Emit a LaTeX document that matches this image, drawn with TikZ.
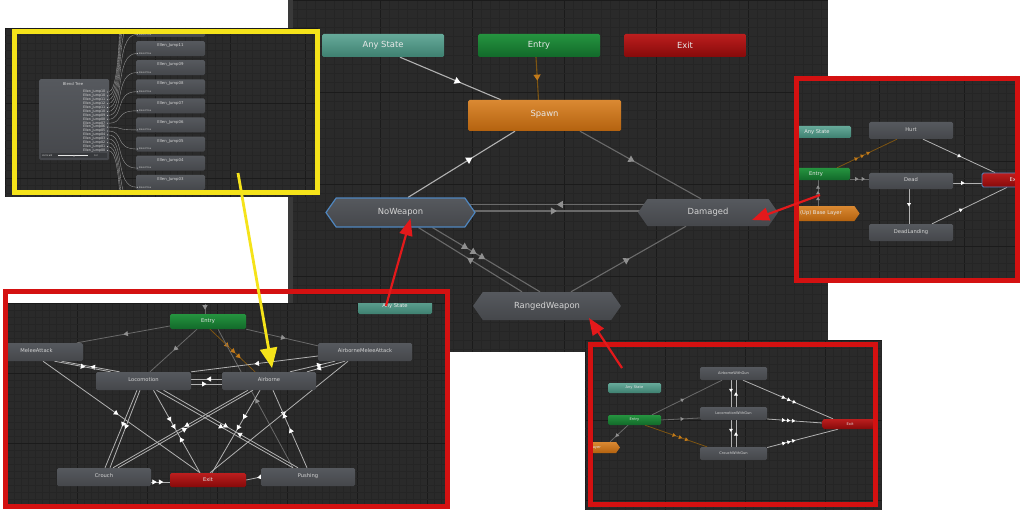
\documentclass[tikz,border=0pt]{standalone}
\usepackage{fontspec}
\setmainfont{DejaVu Sans}
\usetikzlibrary{arrows.meta,decorations.markings,shapes.symbols}
\pgfdeclarelayer{panels}
\pgfdeclarelayer{edges}
\pgfdeclarelayer{top}
\pgfsetlayers{panels,edges,main,top}

\definecolor{pbg}{HTML}{2A2A2A}
\definecolor{gminor}{HTML}{252525}
\definecolor{gmajor}{HTML}{1B1B1B}
\definecolor{stripc}{HTML}{3A3A3A}
\definecolor{nodeT}{HTML}{56595E}
\definecolor{nodeB}{HTML}{45474B}
\definecolor{txt}{HTML}{D4D4D4}
\definecolor{txtc}{HTML}{E8E8E8}
\definecolor{tealT}{HTML}{66AA9A}
\definecolor{tealB}{HTML}{3E8070}
\definecolor{grnT}{HTML}{25943F}
\definecolor{grnB}{HTML}{12692A}
\definecolor{redT}{HTML}{BC1E1E}
\definecolor{redB}{HTML}{860A0A}
\definecolor{orT}{HTML}{DA8932}
\definecolor{orB}{HTML}{B4620F}
\definecolor{lineW}{HTML}{B2B2B2}
\definecolor{lineG}{HTML}{6A6A6A}
\definecolor{arrG}{HTML}{909090}
\definecolor{lineO}{HTML}{7E5512}
\definecolor{arrO}{HTML}{C27A1A}
\definecolor{hiblue}{HTML}{4F86BF}
\definecolor{boxred}{HTML}{D41111}
\definecolor{arrred}{HTML}{E3191B}
\definecolor{boxyel}{HTML}{F5E31A}
\definecolor{curvec}{HTML}{9C9C9C}

\newcommand\gridpanel[6]{%
  \fill[pbg] (#1,#2) rectangle (#3,#4);
  \begin{scope}
    \clip (#1,#2) rectangle (#3,#4);
    \pgfmathtruncatemacro\gnx{(#3-#1)/#5+1}%
    \pgfmathtruncatemacro\gny{(#4-#2)/#5+1}%
    \foreach \k in {0,...,\gnx}{%
      \pgfmathtruncatemacro\kk{mod(\k,#6)}%
      \ifnum\kk=0 \def\gc{gmajor}\else\def\gc{gminor}\fi
      \draw[color=\gc, line width=0.6pt] ({#1+\k*#5},#2) -- ({#1+\k*#5},#4);}
    \foreach \k in {0,...,\gny}{%
      \pgfmathtruncatemacro\kk{mod(\k,#6)}%
      \ifnum\kk=0 \def\gc{gmajor}\else\def\gc{gminor}\fi
      \draw[color=\gc, line width=0.6pt] (#1,{#2+\k*#5}) -- (#3,{#2+\k*#5});}
  \end{scope}}
\newcommand\up[2]{\raisebox{#1pt}{#2}}

\tikzset{
  st/.style={rectangle, rounded corners=1.5pt, top color=nodeT, bottom color=nodeB, text=txt, inner sep=0pt},
  anyst/.style={st, top color=tealT, bottom color=tealB, text=txtc},
  entst/.style={st, top color=grnT, bottom color=grnB, text=txtc},
  exst/.style={st, top color=redT, bottom color=redB, text=txtc},
  orst/.style={st, top color=orT, bottom color=orB, text=txtc},
  hexst/.style={signal, signal to=west and east, signal pointer angle=110, top color=nodeT, bottom color=nodeB, text=txt, inner sep=0pt},
  basest/.style={signal, signal to=east, signal pointer angle=110, top color=orT, bottom color=orB, inner sep=0pt},
  fbig/.style={font=\fontsize{8.4}{10}\selectfont},
  fmed/.style={font=\fontsize{5.2}{6}\selectfont},
  fsml/.style={font=\fontsize{3.6}{4.5}\selectfont},
  ftit/.style={font=\fontsize{3.9}{4.5}\selectfont},
  ftny/.style={font=\fontsize{3.3}{4}\selectfont},
  fmic/.style={font=\fontsize{2.3}{3}\selectfont},
  lw/.style={draw=lineW, line width=1.1pt},
  lg/.style={draw=lineG, line width=1.1pt},
  lo/.style={draw=lineO, line width=1.1pt},
  slw/.style={draw=lineW, line width=0.8pt},
  slg/.style={draw=lineG, line width=0.8pt},
  slo/.style={draw=lineO, line width=0.8pt},
  ma/.style 2 args={postaction={decorate,decoration={markings,mark=at position #1 with {\arrow{Triangle[width=7pt,length=6pt,color=#2]}}}}},
  mr/.style 2 args={postaction={decorate,decoration={markings,mark=at position #1 with {\arrowreversed{Triangle[width=7pt,length=6pt,color=#2]}}}}},
  ba/.style 2 args={postaction={decorate,decoration={markings,mark=at position #1 with {\arrow{Triangle[width=5pt,length=4.5pt,color=#2]}}}}},
  br/.style 2 args={postaction={decorate,decoration={markings,mark=at position #1 with {\arrowreversed{Triangle[width=5pt,length=4.5pt,color=#2]}}}}},
  sa/.style 2 args={postaction={decorate,decoration={markings,mark=at position #1 with {\arrow{Triangle[width=3.8pt,length=3.4pt,color=#2]}}}}},
  sr/.style 2 args={postaction={decorate,decoration={markings,mark=at position #1 with {\arrowreversed{Triangle[width=3.8pt,length=3.4pt,color=#2]}}}}},
  redbox/.style={draw=boxred, line width=5pt},
  redarrow/.style={draw=arrred, line width=2.2pt, -{Triangle[width=13pt,length=17pt,color=arrred]}},
}

\begin{document}
\begin{tikzpicture}[x=1pt,y=-1pt]
\useasboundingbox (0,0) rectangle (1024,513);

% ---------------- panels ----------------
\begin{pgfonlayer}{panels}
\fill[white] (0,0) rectangle (1024,513);
\gridpanel{288}{0}{828}{352}{9.2}{10}
\fill[stripc] (288,0) rectangle (293,304);
\gridpanel{5}{28}{318}{197}{7.5}{10}
\gridpanel{7}{303}{448}{506}{7}{10}
\gridpanel{794}{76}{1020}{283}{8.5}{10}
\gridpanel{585}{340}{882}{510}{8}{10}
\end{pgfonlayer}

% ---------------- main state machine ----------------
\node[anyst, fbig, minimum width=122, minimum height=23] (anyM) at (383,45.5) {Any State};
\node[entst, fbig, minimum width=122, minimum height=23] (entM) at (539,45.5) {Entry};
\node[exst, fbig, minimum width=122, minimum height=23] (exM) at (685,45.5) {Exit};
\node[orst, fbig, minimum width=153, minimum height=31] (spawn) at (544.5,115.5) {\up{3.5}{Spawn}};
\node[hexst, fbig, minimum width=149, minimum height=29, draw=hiblue, line width=1.2pt] (nw) at (400.5,212.5) {NoWeapon};
\node[hexst, fbig, minimum width=140, minimum height=27] (dmg) at (708,212.5) {Damaged};
\node[hexst, fbig, minimum width=148, minimum height=28] (rw) at (547,306) {RangedWeapon};

\begin{pgfonlayer}{edges}
\draw[lw, ma={0.6}{white}] ([xshift=17]anyM.south) -- ([xshift=-43.5]spawn.north);
\draw[lo, ma={0.55}{arrO}] ([xshift=-3]entM.south) -- ([xshift=-6]spawn.north);
\draw[lw, mr={0.4}{white}] ([xshift=-29.5]spawn.south) -- ([xshift=7.5]nw.north);
\draw[lg, ma={0.45}{arrG}] ([xshift=35.5]spawn.south) -- ([xshift=-7]dmg.north);
\draw[lg, mr={0.5}{arrG}] ([xshift=-6,yshift=8]nw.east) -- ([xshift=6,yshift=8]dmg.west);
\draw[lg, ma={0.5}{arrG}] ([xshift=-2,yshift=1.5]nw.east) -- ([xshift=2,yshift=1.5]dmg.west);
\draw[lg, mr={0.47}{arrG}] ([xshift=18]nw.south) -- ([xshift=-25]rw.north);
\draw[lg, ma={0.33}{arrG}, ma={0.41}{arrG}, ma={0.49}{arrG}] ([xshift=32]nw.south) -- ([xshift=-7]rw.north);
\draw[lg, ma={0.51}{arrG}] ([xshift=24]rw.north) -- ([xshift=-22]dmg.south);
\end{pgfonlayer}

% ---------------- top-left blend tree (yellow) ----------------
\begin{scope}
\clip (17,34) rectangle (315,192);
\node[st, minimum width=70, minimum height=81, anchor=north west] (bt) at (39,79) {};
\node[ftit, text=txt] (btT) at (73,84) {Blend Tree};
\foreach \nm [count=\c from 0] in {Ellen\_Jump10,Ellen\_Jump10,Ellen\_Jump11,Ellen\_Jump12,Ellen\_Jump11,Ellen\_Jump10,Ellen\_Jump09,Ellen\_Jump08,Ellen\_Jump07,Ellen\_Jump06,Ellen\_Jump05,Ellen\_Jump04,Ellen\_Jump03,Ellen\_Jump02,Ellen\_Jump01,Ellen\_Jump00}{%
  \pgfmathsetmacro\yy{92+3.9*\c}
  \node[ftny, text=txt, anchor=east, inner sep=0pt] (li\c) at (105.5,\yy) {\nm};
  \fill[txt] (107.6,\yy) circle (0.55);
}
\fill[nodeB!80!black] (41,153) rectangle (107,158.5);
\node[fmic, text=txt, anchor=west, inner sep=0pt] (btV) at (42,155.7) {Vertical0};
\draw[txt!60, line width=0.5pt] (58,155.7) -- (88,155.7);
\fill[txt] (74,155.7) circle (0.9);
\node[fmic, text=txt, anchor=west, inner sep=0pt] (btN) at (94,155.7) {0.2};
\foreach \nm [count=\j from 0] in {Ellen\_Jump12,Ellen\_Jump11,Ellen\_Jump09,Ellen\_Jump08,Ellen\_Jump07,Ellen\_Jump06,Ellen\_Jump05,Ellen\_Jump04,Ellen\_Jump03}{%
  \pgfmathsetmacro\ty{22+19.1*\j}
  \node[st, minimum width=69, minimum height=15] (rc\j) at (170.5,\ty+7.5) {};
  \node[ftit, text=txt] (rt\j) at (170.5,\ty+4.6) {\nm};
  \node[fmic, text=txt, anchor=west, inner sep=0pt] (rb\j) at (139,\ty+12.4) {Blend Tree};
  \fill[txt] (137.2,\ty+12.4) circle (0.6);
}
\end{scope}
\begin{pgfonlayer}{edges}
\begin{scope}
\clip (17,34) rectangle (315,192);
\foreach \c in {0,...,15}{%
  \pgfmathsetmacro\ya{92+3.9*\c}
  \pgfmathsetmacro\yb{22+19.1*(\c-4)+12.4}
  \draw[curvec, line width=0.35pt] ([xshift=2.6]li\c.east) .. controls (125,\ya) and (114,\yb) .. (136.5,\yb);
}
\end{scope}
\end{pgfonlayer}

% ---------------- bottom-left sub machine ----------------
\begin{scope}
\clip (7,303.3) rectangle (448,506);
\node[anyst, fmed, minimum width=74, minimum height=16] (blAny) at (395,306) {\up{1.5}{Any State}};
\node[entst, fmed, minimum width=76, minimum height=15] (blE) at (208,321.5) {Entry};
\node[st, fmed, minimum width=93, minimum height=18] (blM) at (36.5,352) {\up{2}{MeleeAttack}};
\node[st, fmed, minimum width=94, minimum height=18] (blA2) at (365,352) {\up{2}{AirborneMeleeAttack}};
\node[st, fmed, minimum width=95, minimum height=18] (blL) at (143.5,381) {\up{2}{Locomotion}};
\node[st, fmed, minimum width=94, minimum height=18] (blAb) at (269,381) {\up{2}{Airborne}};
\node[st, fmed, minimum width=94, minimum height=18] (blC) at (104,477) {\up{2}{Crouch}};
\node[exst, fmed, minimum width=76, minimum height=14] (blX) at (208,480) {Exit};
\node[st, fmed, minimum width=94, minimum height=18] (blP) at (308,477) {\up{2}{Pushing}};
\end{scope}
\coordinate (blTop) at (205,303.5);
\begin{pgfonlayer}{edges}
\draw[slg, ba={0.6}{arrG}] (blTop) -- ([xshift=-3]blE.north);
\draw[slg, ba={0.5}{arrG}] ([yshift=-4.5]blE.west) -- ([xshift=40.5]blM.north);
\draw[slg, ba={0.55}{arrG}] (blE.south east) -- ([yshift=-3]blA2.north west);
\draw[slg, ba={0.5}{arrG}] ([xshift=-11]blE.south) -- ([xshift=6.5]blL.north);
\draw[slo, ba={0.42}{arrO}, ba={0.56}{arrO}, ba={0.68}{arrO}] ([xshift=2]blE.south) -- ([xshift=-14]blAb.north);
\draw[slg, br={0.5}{arrG}] ([xshift=10]blE.south) -- ([xshift=-15]blP.north);
\draw[slw, br={0.5}{white}] ([xshift=25]blM.south) -- ([xshift=-24]blL.north);
\draw[slw, ba={0.55}{white}] ([xshift=18]blM.south) -- ([xshift=-33]blL.north);
\draw[slw, ba={0.48}{white}] ([xshift=6.5]blM.south) -- ([xshift=-8]blX.north);
\draw[slw, br={0.3}{white}] ([xshift=-30]blA2.south) -- ([xshift=21]blAb.north);
\draw[slw, ba={0.75}{white}] ([xshift=-20]blA2.south) -- ([xshift=38]blAb.north);
\draw[slw, ba={0.5}{white}] ([yshift=-4]blA2.west) -- (blL.north east);
\draw[slw, br={0.45}{white}] ([xshift=-17]blA2.south) -- ([xshift=2]blX.north);
\draw[slw, br={0.5}{white}] ([yshift=2]blL.east) -- ([yshift=2]blAb.west);
\draw[slw, ba={0.5}{white}] ([yshift=-3]blL.east) -- ([yshift=-3]blAb.west);
\draw[slw, ba={0.47}{white}] ([xshift=-6.5]blL.south) -- ([xshift=1]blC.north);
\draw[slw, ba={0.5}{white}] ([xshift=-3.5]blL.south) -- ([xshift=6]blC.north);
\draw[slw, ba={0.38}{white}, ba={0.47}{white}, br={0.57}{white}] ([xshift=10]blL.south) -- ([xshift=-8]blX.north);
\draw[slw, ba={0.49}{white}] ([xshift=13]blL.south) -- ([xshift=-15]blP.north);
\draw[slw, ba={0.48}{white}, br={0.55}{white}] ([xshift=20]blL.south) -- ([xshift=-10]blP.north);
\draw[slw, ba={0.47}{white}] ([xshift=-21]blAb.south) -- ([xshift=9]blC.north);
\draw[slw, br={0.49}{white}] ([xshift=-16]blAb.south) -- ([xshift=14]blC.north);
\draw[slw, ba={0.35}{white}, ba={0.48}{white}] ([xshift=-9]blAb.south) -- ([xshift=4]blX.north);
\draw[slw, br={0.3}{white}, br={0.49}{white}] ([xshift=4]blAb.south) -- ([xshift=-1]blP.north);
\draw[slw, ba={0.3}{white}, ba={0.65}{white}] ([yshift=-5]blC.east) -- ([yshift=-2]blX.west);
\draw[slw, ba={0.25}{white}] (blP.west) -- (blX.east);
\end{pgfonlayer}

% ---------------- right sub machine (Damaged) ----------------
\begin{scope}
\clip (796,78) rectangle (1018,281);
\node[anyst, fmed, minimum width=68, minimum height=12] (rAny) at (817,132) {Any State};
\node[entst, fmed, minimum width=68, minimum height=12] (rEnt) at (816,174) {Entry};
\node[basest, minimum width=97, minimum height=15] (rBase) at (808.5,213.5) {};
\node[fmed, text=txtc, anchor=east, inner sep=0pt] (rBaseT) at (842,213.5) {(Up) Base Layer};
\node[st, fmed, minimum width=84, minimum height=17] (rHurt) at (911,130.5) {\up{2.5}{Hurt}};
\node[st, fmed, minimum width=84, minimum height=16] (rDead) at (911,181) {\up{2.5}{Dead}};
\node[st, fmed, minimum width=84, minimum height=17] (rDL) at (911,232.5) {\up{2.5}{DeadLanding}};
\node[exst, fmed, draw=hiblue, line width=0.8pt, minimum width=65, minimum height=14] (rExit) at (1014.5,180) {Exit};
\end{scope}
\begin{pgfonlayer}{edges}
\draw[slo, sa={0.35}{arrO}, sa={0.45}{arrO}, sa={0.55}{arrO}] ([xshift=21]rEnt.north) -- ([xshift=-14]rHurt.south);
\draw[slg, sa={0.45}{arrG}, sa={0.8}{arrG}] ([yshift=-5]rEnt.east) -- ([yshift=2]rDead.west);
\draw[slg, sa={0.35}{arrG}, sa={0.58}{arrG}, sa={0.8}{arrG}] ([xshift=9.5]rBase.north) -- ([xshift=2]rEnt.south);
\draw[slw, sa={0.53}{white}] ([xshift=12]rHurt.south) -- ([xshift=-19.5]rExit.north);
\draw[slw, sa={0.4}{white}] ([yshift=-2]rDead.east) -- ([yshift=-3]rExit.west);
\draw[slw, sa={0.5}{white}] ([xshift=-2]rDead.south) -- ([xshift=-2]rDL.north);
\draw[slw, sa={0.41}{white}] ([xshift=21]rDL.north) -- ([xshift=-7.5]rExit.south);
\end{pgfonlayer}

% ---------------- bottom-right sub machine (RangedWeapon) ----------------
\begin{scope}
\clip (590,344) rectangle (876,505);
\node[anyst, fsml, minimum width=53, minimum height=10] (brAny) at (634.5,388) {Any State};
\node[entst, fsml, minimum width=53, minimum height=10] (brEnt) at (634.5,420) {Entry};
\node[basest, minimum width=60, minimum height=11] (brBase) at (588,447.5) {};
\node[fsml, text=txtc, anchor=east, inner sep=0pt] (brBaseT) at (601,447.5) {Base Layer};
\node[st, fsml, minimum width=67, minimum height=13] (brAir) at (733.5,373.5) {\up{1.5}{AirborneWithGun}};
\node[st, fsml, minimum width=67, minimum height=13] (brLoco) at (733.5,413.5) {\up{1.5}{LocomotionWithGun}};
\node[st, fsml, minimum width=67, minimum height=13] (brCr) at (733.5,453.5) {\up{1.5}{CrouchWithGun}};
\node[exst, fsml, minimum width=55, minimum height=10] (brExit) at (850,424) {Exit};
\end{scope}
\begin{pgfonlayer}{edges}
\draw[slg, sa={0.46}{arrG}] ([xshift=17.5]brEnt.north) -- ([xshift=-11.5]brAir.south);
\draw[slg, sa={0.59}{arrG}] (brEnt.east) -- ([yshift=-4.5]brLoco.west);
\draw[slg, sa={0.7}{arrG}] ([xshift=-6.5]brEnt.south) -- ([xshift=22]brBase.north);
\draw[slo, sa={0.5}{arrO}, sa={0.6}{arrO}, sa={0.7}{arrO}] ([xshift=10.5]brEnt.south) -- ([xshift=-26.5]brCr.north);
\draw[slw, sa={0.45}{white}] ([xshift=-2.5]brAir.south) -- ([xshift=-2.5]brLoco.north);
\draw[slw, sa={0.55}{white}] ([xshift=2.5]brLoco.north) -- ([xshift=2.5]brAir.south);
\draw[slw, sa={0.45}{white}] ([xshift=-2.5]brLoco.south) -- ([xshift=-2.5]brCr.north);
\draw[slw, sa={0.55}{white}] ([xshift=2.5]brCr.north) -- ([xshift=2.5]brLoco.south);
\draw[slw, sa={0.47}{white}, sa={0.53}{white}, sa={0.59}{white}] ([xshift=9.5]brAir.south) -- ([xshift=-17]brExit.north);
\draw[slw, sa={0.33}{white}, sa={0.42}{white}, sa={0.51}{white}] ([yshift=-5.5]brLoco.east) -- ([yshift=1]brExit.west);
\draw[slw, sa={0.26}{white}, sa={0.33}{white}, sa={0.4}{white}] ([yshift=6]brCr.east) -- ([xshift=-12]brExit.south);
\end{pgfonlayer}

% ---------------- frames and callout arrows ----------------
\begin{pgfonlayer}{top}
\draw[draw=boxyel, line width=5pt] (14.5,31.5) rectangle (317.5,192.5);
\draw[redbox] (5.5,291.5) rectangle (447.5,506.5);
\draw[redbox] (796.5,78.5) rectangle (1017.5,280.5);
\draw[redbox] (590.5,344.5) rectangle (875.5,504.5);
\coordinate (ys) at (238,173);
\coordinate (ye) at (272,368);
\draw[draw=boxyel, line width=2.8pt, -{Triangle[width=17pt,length=20pt,color=boxyel]}] (ys) -- (ye);
\coordinate (r1s) at (386,306);
\coordinate (r2s) at (820,195);
\coordinate (r3s) at (622,368);
\draw[redarrow] (r1s) -- ([xshift=10,yshift=-6]nw.center);
\draw[redarrow] (r2s) -- ([xshift=44,yshift=-7.5]dmg.center);
\draw[redarrow] (r3s) -- ([xshift=42,yshift=-12]rw.center);
\end{pgfonlayer}
\end{tikzpicture}
\end{document}
